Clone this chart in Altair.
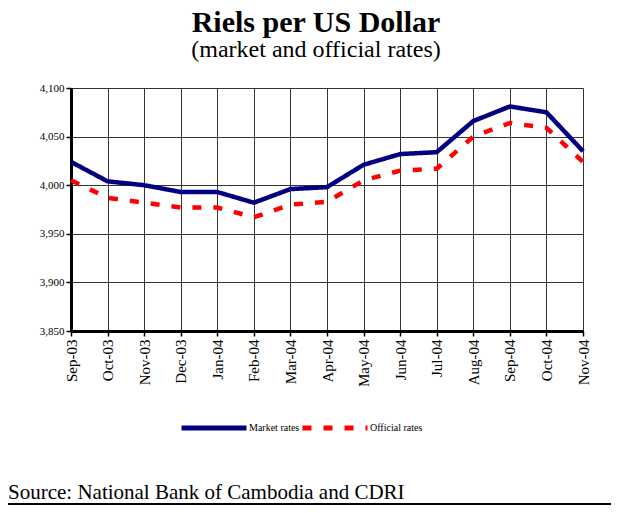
import altair as alt
import pandas as pd

months = ["Sep-03", "Oct-03", "Nov-03", "Dec-03", "Jan-04", "Feb-04", "Mar-04", "Apr-04",
          "May-04", "Jun-04", "Jul-04", "Aug-04", "Sep-04", "Oct-04", "Nov-04"]
market = [4024, 4004, 4000, 3993, 3993, 3982, 3996, 3998, 4021, 4032, 4034, 4066, 4081, 4075, 4035]
official = [4005, 3987, 3982, 3977, 3977, 3967, 3980, 3983, 4005, 4015, 4017, 4050, 4064, 4059, 4024]
series = ["Market rates", "Official rates"]

rows = []
for m, a, b in zip(months, market, official):
    rows.append({"month": m, "series": series[0], "value": a})
    rows.append({"month": m, "series": series[1], "value": b})
df = pd.DataFrame(rows)

FONT = "Liberation Serif"

x = alt.X("month:N", sort=months, scale=alt.Scale(type="point", padding=0),
          axis=alt.Axis(title=None, labelAngle=-90, labelAlign="right", labelBaseline="middle",
                        labelFontSize=15, labelFont=FONT, labelColor="black", labelPadding=3,
                        tickSize=5, tickColor="black", tickWidth=1.5,
                        domainColor="black", domainWidth=3,
                        grid=True, gridColor="#333333", gridWidth=1))
y = alt.Y("value:Q", scale=alt.Scale(domain=[3850, 4100], nice=False, zero=False),
          axis=alt.Axis(title=None, values=[3850, 3900, 3950, 4000, 4050, 4100], format=",.0f",
                        labelFontSize=11, labelFont=FONT, labelColor="black", labelPadding=2,
                        tickSize=5, tickColor="black", tickWidth=1.5,
                        domainColor="black", domainWidth=3,
                        grid=True, gridColor="#333333", gridWidth=1))

leg = alt.Legend(title=None, orient="none", legendX=108, legendY=305,
                 direction="horizontal", columns=2, columnPadding=-8,
                 symbolType="stroke", symbolSize=4225, symbolStrokeWidth=5,
                 labelFont=FONT, labelFontSize=10, labelColor="black",
                 labelOffset=0, padding=0)

lines = alt.Chart(df).mark_line(strokeWidth=4.5, strokeCap="butt", strokeJoin="miter").encode(
    x=x, y=y,
    color=alt.Color("series:N", scale=alt.Scale(domain=series, range=["#000080", "#ff0000"]),
                    legend=leg),
    strokeDash=alt.StrokeDash("series:N", scale=alt.Scale(domain=series, range=[[1, 0], [9, 12]]),
                              legend=leg),
)

source = alt.Chart(pd.DataFrame({"t": ["Source: National Bank of Cambodia and CDRI"]})).mark_text(
    align="left", baseline="middle", font=FONT, fontSize=21, color="black"
).encode(text="t:N", x=alt.value(-63), y=alt.value(405))

bottom_rule = alt.Chart(pd.DataFrame({"a": [0]})).mark_rule(color="black", strokeWidth=2).encode(
    x=alt.value(-63), x2=alt.value(552), y=alt.value(416))

chart = alt.layer(lines, source, bottom_rule).properties(
    width=512, height=243,
    autosize=alt.AutoSizeParams(type="none"),
    padding={"left": 63, "top": 80, "right": 28, "bottom": 174},
    title=alt.TitleParams(text="Riels per US Dollar", subtitle="(market and official rates)",
                          anchor="middle", dx=-11, offset=20, font=FONT, fontSize=30,
                          fontWeight="bold", color="black", subtitleFont=FONT,
                          subtitleFontSize=24, subtitleColor="black", subtitlePadding=0),
).configure_view(stroke="black", strokeWidth=2).configure(
    background="white", font=FONT
).configure_legend(labelFont=FONT, labelFontSize=10, labelColor="black")

chart.save("out.html", embed_options={"renderer": "svg", "actions": False})
